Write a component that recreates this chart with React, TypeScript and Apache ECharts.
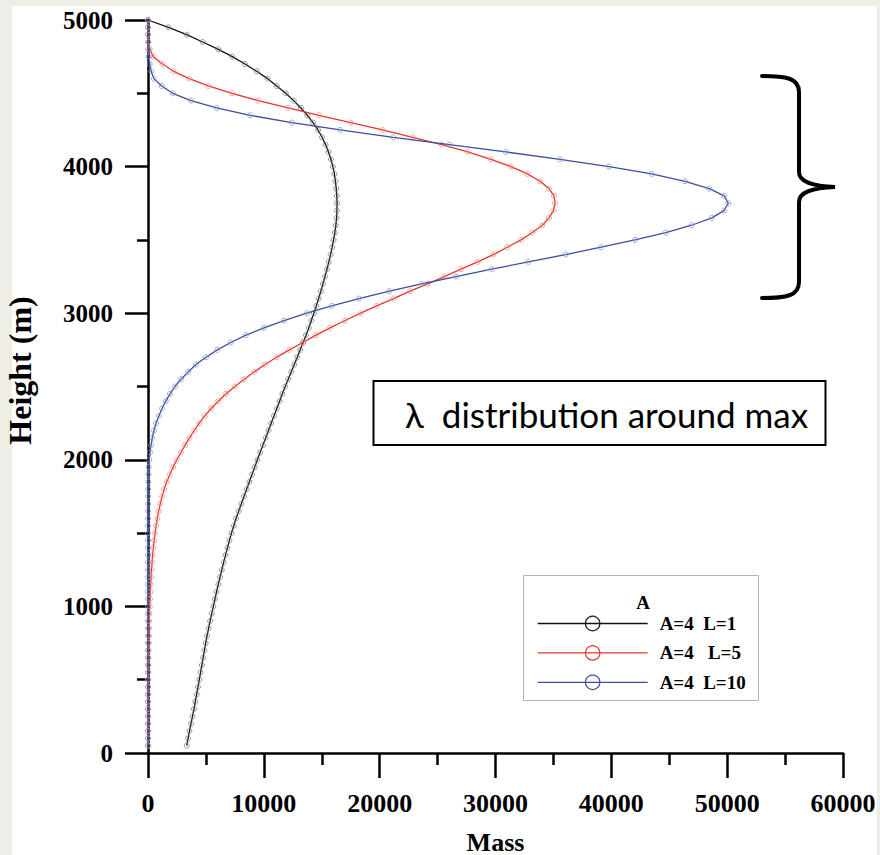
import React, { useEffect, useRef } from "react";
import * as echarts from "echarts";

// Height samples (m)
const heights = [
  50, 100, 150, 200, 250, 300, 350, 400, 450, 500,
  550, 600, 650, 700, 750, 800, 850, 900, 950, 1000,
  1050, 1100, 1150, 1200, 1250, 1300, 1350, 1400, 1450, 1500,
  1550, 1600, 1650, 1700, 1750, 1800, 1850, 1900, 1950, 2000,
  2050, 2100, 2150, 2200, 2250, 2300, 2350, 2400, 2450, 2500,
  2550, 2600, 2650, 2700, 2750, 2800, 2850, 2900, 2950, 3000,
  3050, 3100, 3150, 3200, 3250, 3300, 3350, 3400, 3450, 3500,
  3550, 3600, 3650, 3700, 3750, 3800, 3850, 3900, 3950, 4000,
  4050, 4100, 4150, 4200, 4250, 4300, 4350, 4400, 4450, 4500,
  4550, 4600, 4650, 4700, 4750, 4800, 4850, 4900, 4950, 5000,
];

// Mass, A=4 L=1
const massL1 = [
  3340, 3460, 3580, 3710, 3840, 3970, 4080, 4200, 4310, 4430,
  4540, 4650, 4760, 4870, 4980, 5100, 5230, 5360, 5500, 5640,
  5780, 5920, 6070, 6220, 6370, 6530, 6690, 6860, 7030, 7210,
  7400, 7600, 7830, 8060, 8290, 8520, 8750, 8980, 9210, 9440,
  9680, 9920, 10160, 10400, 10640, 10880, 11120, 11360, 11600, 11850,
  12110, 12370, 12630, 12890, 13140, 13390, 13640, 13880, 14100, 14320,
  14530, 14730, 14920, 15100, 15280, 15450, 15610, 15760, 15900, 16020,
  16130, 16220, 16280, 16310, 16320, 16300, 16250, 16180, 16090, 15960,
  15790, 15580, 15330, 15030, 14680, 14250, 13750, 13200, 12580, 11890,
  11110, 10330, 9380, 8370, 7280, 6070, 4720, 3340, 1760, 0,
];

// Mass, A=4 L=5
const massL5 = [
  0, 0, 0, 0, 0, 0, 5, 8, 12, 18,
  25, 35, 45, 55, 65, 80, 95, 110, 130, 150,
  175, 200, 230, 265, 300, 350, 400, 460, 530, 610,
  700, 800, 920, 1060, 1220, 1400, 1610, 1880, 2170, 2480,
  2840, 3200, 3580, 3990, 4430, 4900, 5450, 6070, 6740, 7500,
  8310, 9180, 10100, 11110, 12200, 13360, 14500, 15710, 17010, 18360,
  19740, 21200, 22620, 24150, 25580, 27020, 28460, 29810, 31020, 32200,
  33180, 34040, 34620, 35000, 35140, 35050, 34620, 33840, 32750, 31340,
  29610, 27600, 25350, 22850, 20240, 17500, 14760, 12100, 9520, 7250,
  5210, 3550, 2210, 1250, 460, 150, 40, 10, 0, 0,
];

// Mass, A=4 L=10
const massL10 = [
  0, 0, 0, 0, 0, 0, 0, 0, 0, 0,
  0, 0, 0, 0, 0, 0, 0, 0, 0, 0,
  0, 0, 0, 0, 0, 0, 0, 0, 0, 0,
  0, 0, 0, 5, 10, 15, 25, 40, 60, 110,
  170, 260, 370, 520, 690, 950, 1210, 1530, 1900, 2330,
  2850, 3480, 4140, 5010, 5980, 7140, 8460, 10010, 11740, 13700,
  15860, 18220, 20830, 23630, 26590, 29670, 32830, 36060, 39110, 42040,
  44700, 46940, 48670, 49730, 50100, 49750, 48460, 46360, 43490, 39800,
  35570, 30880, 26010, 21180, 16580, 12410, 8810, 5930, 3710, 2130,
  1180, 500, 280, 150, 70, 30, 10, 0, 0, 0,
];

const seriesNames = ["A=4  L=1", "A=4   L=5", "A=4  L=10"];
const legendTitle = "A";
const noteText = "λ  distribution around max";
const xAxisName = "Mass";
const yAxisName = "Height (m)";

const SERIF = "'Liberation Serif', 'Times New Roman', serif";

export default function App() {
  const ref = useRef<HTMLDivElement>(null);

  useEffect(() => {
    if (!ref.current) return;
    const braceD =
      "M762,76 C786,76 799,78 799,92 L799,172 C799,182 812,186 835,187 C812,188 799,192 799,202 L799,282 C799,296 786,298 762,298";
    echarts.graphic.registerShape("brace", echarts.graphic.extendPath(braceD, {}) as any);

    const chart = echarts.init(ref.current, undefined, { renderer: "svg" });
    const mk = (arr: number[]) => arr.map((m, i) => [m, heights[i]]);
    const lineColors = ["#111111", "#e6362c", "#3c4ea0"];
    const markColors = ["#7a7a7a", "#ef8a84", "#8592c8"];
    const datas = [massL1, massL5, massL10];

    const option: any = {
      animation: false,
      backgroundColor: "transparent",
      grid: {
        left: 148,
        right: 37,
        top: 20,
        bottom: 102,
        containLabel: false,
        outerBoundsMode: "none",
      },
      xAxis: {
        type: "value",
        min: 0,
        max: 60000,
        interval: 10000,
        name: xAxisName,
        nameLocation: "middle",
        nameGap: 78,
        nameTextStyle: {
          fontFamily: SERIF,
          fontWeight: "bold",
          fontSize: 26,
          lineHeight: 22,
          color: "#000",
        },
        axisLine: { show: true, onZero: false, lineStyle: { color: "#000", width: 2.5 } },
        axisTick: { show: true, inside: false, length: 25, lineStyle: { color: "#000", width: 2.5 } },
        minorTick: { show: true, splitNumber: 2, length: 12, lineStyle: { color: "#000", width: 2.5 } },
        splitLine: { show: false },
        axisLabel: {
          margin: 37,
          fontFamily: SERIF,
          fontWeight: "bold",
          fontSize: 26,
          color: "#000",
          formatter: (v: number) => String(v),
        },
      },
      yAxis: {
        type: "value",
        min: 0,
        max: 5000,
        interval: 1000,
        name: yAxisName,
        nameLocation: "middle",
        nameGap: 115,
        nameRotate: 90,
        nameTextStyle: {
          fontFamily: SERIF,
          fontWeight: "bold",
          fontSize: 32,
          lineHeight: 26,
          color: "#000",
          padding: [0, 0, 0, 32],
        },
        axisLine: { show: true, onZero: false, lineStyle: { color: "#000", width: 2.5 } },
        axisTick: { show: true, inside: false, length: 23, lineStyle: { color: "#000", width: 2.5 } },
        minorTick: { show: true, splitNumber: 2, length: 11, lineStyle: { color: "#000", width: 2.5 } },
        splitLine: { show: false },
        axisLabel: {
          margin: 35,
          fontFamily: SERIF,
          fontWeight: "bold",
          fontSize: 25,
          color: "#000",
          formatter: (v: number) => String(v),
        },
      },
      legend: {
        orient: "vertical",
        left: 537,
        top: 614,
        padding: 0,
        itemWidth: 110,
        itemHeight: 18,
        itemGap: 10.4,
        selectedMode: false,
        textStyle: {
          fontFamily: SERIF,
          fontWeight: "bold",
          fontSize: 19,
          color: "#000",
          lineHeight: 18,
          padding: [0, 0, 0, 7],
        },
        data: seriesNames.map((n, i) => ({
          name: n,
          itemStyle: { color: "rgba(255,255,255,0)", borderColor: lineColors[i], borderWidth: 1.2 },
          lineStyle: { color: lineColors[i], width: 1.3 },
        })),
      },
      series: datas.map((arr, i) => ({
        type: "line",
        name: seriesNames[i],
        data: mk(arr),
        showSymbol: true,
        symbol: "circle",
        symbolSize: 5,
        lineStyle: { color: lineColors[i], width: 1.3 },
        itemStyle: { color: "rgba(255,255,255,0)", borderColor: markColors[i], borderWidth: 0.8 },
        emphasis: { disabled: true },
        z: 2 + i,
      })),
      graphic: [
        {
          type: "rect",
          shape: { x: 523.5, y: 575.5, width: 235, height: 125 },
          style: { fill: "none", stroke: "#b4b4b4", lineWidth: 1 },
          z: 1,
        },
        {
          type: "text",
          x: 643,
          y: 602,
          style: {
            text: legendTitle,
            fontFamily: SERIF,
            fontWeight: "bold",
            fontSize: 19,
            fill: "#000",
            align: "center",
            verticalAlign: "middle",
          },
        },
        {
          type: "rect",
          shape: { x: 373.5, y: 381, width: 452, height: 64 },
          style: { fill: "#fff", stroke: "#000", lineWidth: 2 },
          z: 1,
        },
        {
          type: "text",
          x: 405,
          y: 414,
          style: {
            text: noteText,
            fontFamily: "Lato, 'Open Sans', sans-serif",
            fontSize: 35,
            fill: "#000",
            align: "left",
            verticalAlign: "middle",
          },
          z: 2,
        },
        {
          type: "brace",
          x: 0,
          y: 0,
          scaleX: 1,
          scaleY: 1,
          style: { fill: "none", stroke: "#000", lineWidth: 4, lineCap: "round" },
        },
      ],
    };
    chart.setOption(option);
    return () => chart.dispose();
  }, []);

  return (
    <div style={{ position: "absolute", left: 0, top: 0, width: 880, height: 855, background: "#eeeee7", overflow: "hidden" }}>
      <div style={{ position: "absolute", left: 12, top: 6, width: 865, height: 849, background: "#ffffff" }} />
      <div ref={ref} style={{ position: "absolute", left: 0, top: 0, width: 880, height: 855 }} />
    </div>
  );
}
